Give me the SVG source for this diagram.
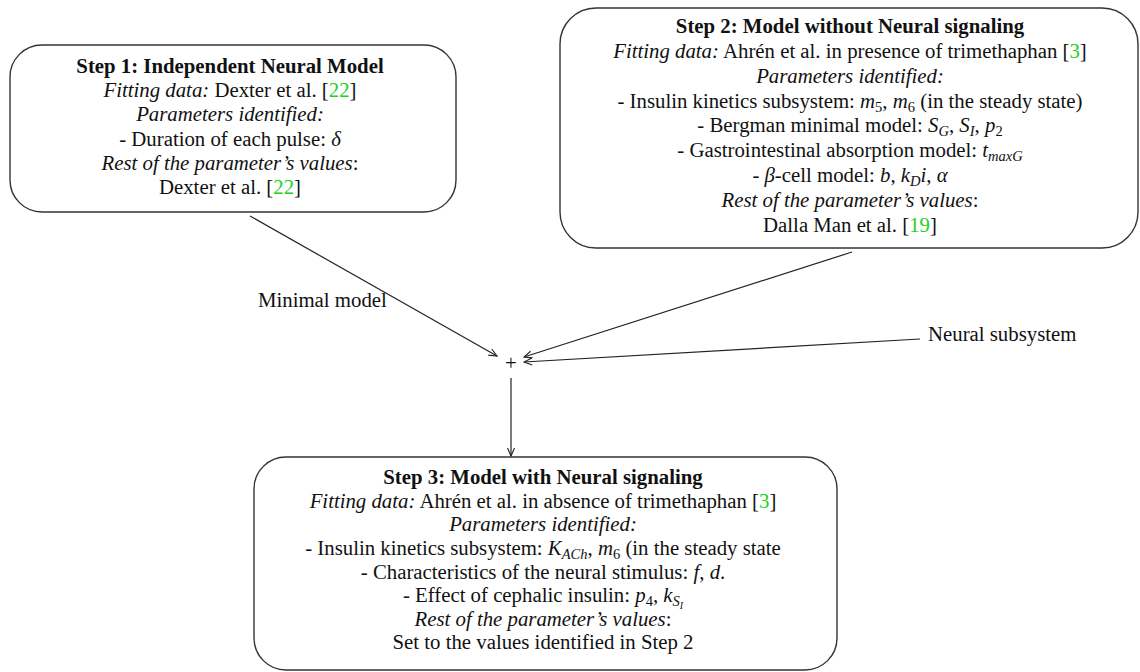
<svg xmlns="http://www.w3.org/2000/svg" width="1140" height="672" viewBox="0 0 1140 672">
<style>
.box{fill:#fff;stroke:#333;stroke-width:1.4}
.t{font-family:"Liberation Serif","Times New Roman",serif;font-size:20.8px;fill:#111;text-anchor:middle}
.b{font-weight:bold}
.i{font-style:italic}
.g{fill:#22d022}
.s{font-size:14.5px}
.ln{stroke:#222;stroke-width:1.2;fill:none}
.lab{font-family:"Liberation Serif","Times New Roman",serif;font-size:20.8px;fill:#111}
</style>
<defs>
<marker id="ah" markerWidth="10" markerHeight="10" refX="9" refY="4" orient="auto" markerUnits="userSpaceOnUse">
<path d="M1,0.5 L9,4 L1,7.5" fill="none" stroke="#222" stroke-width="1.1"/>
</marker>
</defs>
<rect width="1140" height="672" fill="#fff"/>
<g id="connectors">
<line class="ln" x1="250" y1="216" x2="497" y2="356" marker-end="url(#ah)"/>
<line class="ln" x1="852" y1="252" x2="524" y2="357" marker-end="url(#ah)"/>
<line class="ln" x1="920" y1="339" x2="524" y2="362" marker-end="url(#ah)"/>
<line class="ln" x1="511" y1="378" x2="511" y2="456" marker-end="url(#ah)"/>
<text class="lab" x="258" y="307">Minimal model</text>
<text class="lab" x="928" y="341">Neural subsystem</text>
<text class="lab" x="505" y="370">+</text>
</g>
<g id="step1">
<rect class="box" x="10" y="45" width="446" height="167" rx="32"/>
<text class="t b" x="230" y="73">Step 1: Independent Neural Model</text>
<text class="t" x="230" y="97"><tspan class="i">Fitting data:</tspan> Dexter et al. [<tspan class="g">22</tspan>]</text>
<text class="t i" x="230" y="121">Parameters identified:</text>
<text class="t" x="230" y="146">- Duration of each pulse: <tspan class="i">δ</tspan></text>
<text class="t" x="230" y="170"><tspan class="i">Rest of the parameter’s values</tspan>:</text>
<text class="t" x="230" y="194">Dexter et al. [<tspan class="g">22</tspan>]</text>
</g>
<g id="step2">
<rect class="box" x="560" y="8" width="578" height="240" rx="36"/>
<text class="t b" x="850" y="33">Step 2: Model without Neural signaling</text>
<text class="t" x="850" y="58"><tspan class="i">Fitting data:</tspan> Ahrén et al. in presence of trimethaphan [<tspan class="g">3</tspan>]</text>
<text class="t i" x="850" y="83">Parameters identified:</text>
<text class="t" x="850" y="108">- Insulin kinetics subsystem: <tspan class="i">m</tspan><tspan class="s" dy="4">5</tspan><tspan dy="-4">, </tspan><tspan class="i">m</tspan><tspan class="s" dy="4">6</tspan><tspan dy="-4"> (in the steady state)</tspan></text>
<text class="t" x="850" y="132">- Bergman minimal model: <tspan class="i">S</tspan><tspan class="s i" dy="4">G</tspan><tspan dy="-4">, </tspan><tspan class="i">S</tspan><tspan class="s i" dy="4">I</tspan><tspan dy="-4">, </tspan><tspan class="i">p</tspan><tspan class="s" dy="4">2</tspan></text>
<text class="t" x="850" y="157">- Gastrointestinal absorption model: <tspan class="i">t</tspan><tspan class="s i" dy="4">maxG</tspan></text>
<text class="t" x="850" y="182">- <tspan class="i">β</tspan>-cell model: <tspan class="i">b</tspan>, <tspan class="i">k</tspan><tspan class="s i" dy="4">D</tspan><tspan class="i" dy="-4">i</tspan>, <tspan class="i">α</tspan></text>
<text class="t" x="850" y="207"><tspan class="i">Rest of the parameter’s values</tspan>:</text>
<text class="t" x="850" y="232">Dalla Man et al. [<tspan class="g">19</tspan>]</text>
</g>
<g id="step3">
<rect class="box" x="254" y="457" width="583" height="213" rx="32"/>
<text class="t b" x="543" y="484">Step 3: Model with Neural signaling</text>
<text class="t" x="543" y="508"><tspan class="i">Fitting data:</tspan> Ahrén et al. in absence of trimethaphan [<tspan class="g">3</tspan>]</text>
<text class="t i" x="543" y="531">Parameters identified:</text>
<text class="t" x="543" y="555">- Insulin kinetics subsystem: <tspan class="i">K</tspan><tspan class="s i" dy="4">ACh</tspan><tspan dy="-4">, </tspan><tspan class="i">m</tspan><tspan class="s" dy="4">6</tspan><tspan dy="-4"> (in the steady state</tspan></text>
<text class="t" x="543" y="579">- Characteristics of the neural stimulus: <tspan class="i">f</tspan>, <tspan class="i">d</tspan>.</text>
<text class="t" x="543" y="602">- Effect of cephalic insulin: <tspan class="i">p</tspan><tspan class="s" dy="4">4</tspan><tspan dy="-4">, </tspan><tspan class="i">k</tspan><tspan class="s i" dy="4">S</tspan><tspan class="i" style="font-size:10px" dy="3">I</tspan></text>
<text class="t" x="543" y="626"><tspan class="i">Rest of the parameter’s values</tspan>:</text>
<text class="t" x="543" y="649">Set to the values identified in Step 2</text>
</g>
</svg>
